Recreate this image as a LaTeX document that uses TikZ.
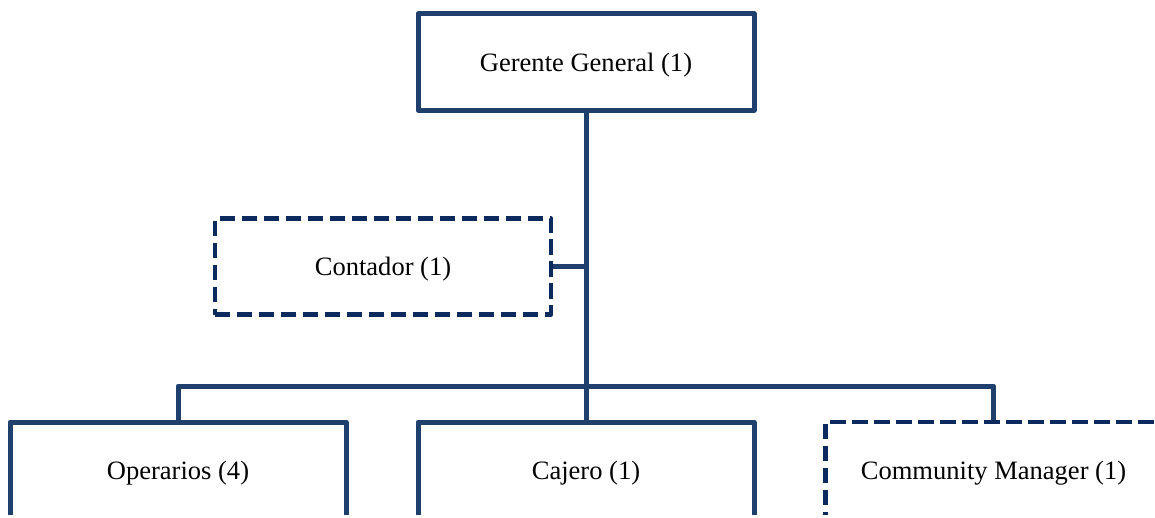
\documentclass[tikz,border=0pt]{standalone}
\usepackage{fontspec}
\setmainfont{Liberation Serif}
\usetikzlibrary{positioning}
\definecolor{azul}{HTML}{1F3F6C}
\definecolor{marino}{HTML}{0D2A5E}
\tikzstyle{puesto}=[draw=azul,line width=3.75pt,line join=round,minimum width=252pt,minimum height=72pt,inner sep=0pt,text depth=0pt,font=\fontsize{19.9}{24}\selectfont]
\tikzstyle{externo}=[puesto,draw=marino,line width=3.5pt,dash pattern=on 11.5pt off 5pt]
\tikzstyle{rama}=[draw=azul,line width=3.75pt,line join=round]

\begin{document}
\begin{tikzpicture}[x=0.75pt,y=-0.75pt]
    \path[use as bounding box] (0,0) rectangle (1155,517);
    \clip (0,0) rectangle (1155,514);

    \node[puesto]  (G) at (586,62)    {Gerente General (1)};
    \node[externo] (C) at (383,266.5) {Contador (1)};
    \node[puesto]  (O) at (178,470)   {Operarios (4)};
    \node[puesto]  (K) at (586,470)   {Cajero (1)};
    \node[externo] (M) at (993.5,470) {Community Manager (1)};
    \coordinate (bus) at (586,386);

    \draw[rama] (G.south) -- (bus);
    \draw[rama] (C.east) -- (C.east -| G.south);
    \draw[rama] (O.north) |- (bus) -| (M.north);
    \draw[rama] (bus) -- (K.north);

\end{tikzpicture}
\end{document}
